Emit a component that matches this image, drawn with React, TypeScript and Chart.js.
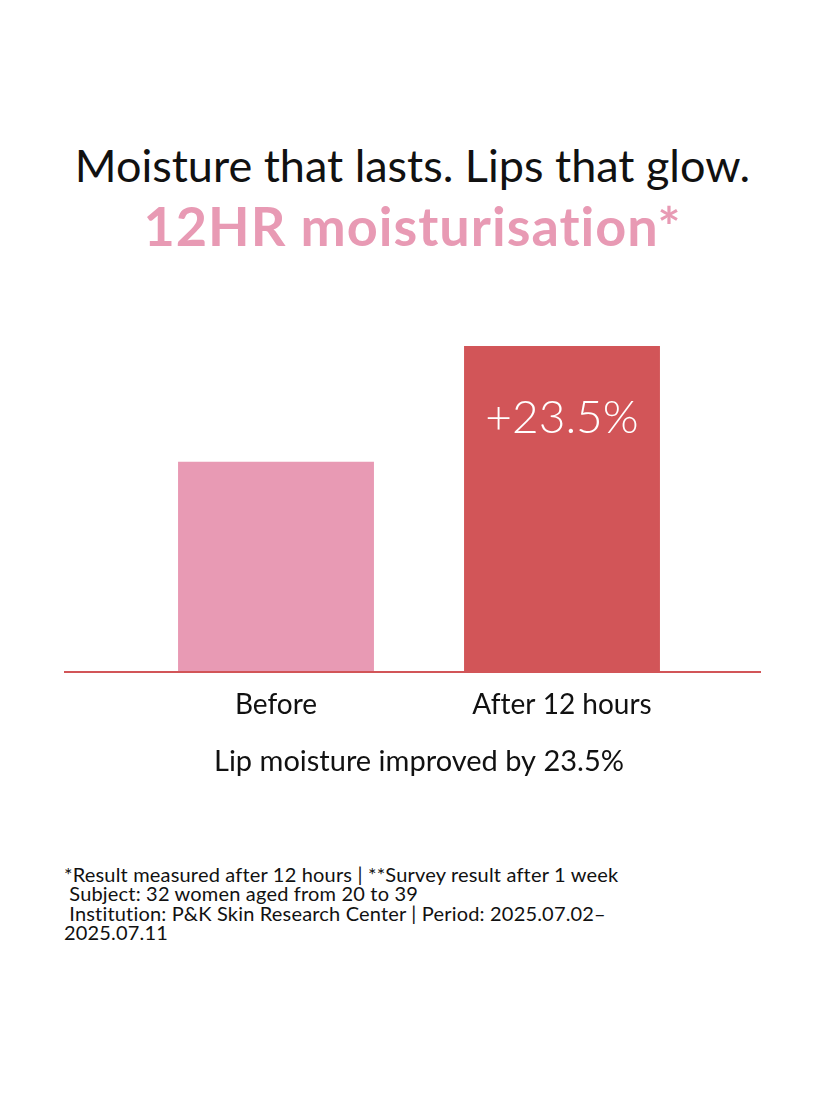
import React, { useEffect, useRef } from "react";
import { Chart, registerables } from "chart.js";

Chart.register(...registerables);

const categories: string[] = ["Before", "After 12 hours"];
const moistureValues: number[] = [100, 155];
const barLabels: string[] = ["", "+23.5%"];
const axisTitle = "Lip moisture improved by 23.5%";
const headline = "Moisture that lasts. Lips that glow.";
const subline = "12HR moisturisation*";
const footnoteLines: string[] = [
  "*Result measured after 12 hours | **Survey result after 1 week",
  " Subject: 32 women aged from 20 to 39",
  " Institution: P&K Skin Research Center | Period: 2025.07.02\u2013",
  "2025.07.11",
];

const FONT = "Lato, 'Noto Sans', sans-serif";
const PINK = "#e89ab4";
const RED = "#d25558";

const baselinePlugin = {
  id: "fullBaseline",
  afterDatasetsDraw(chart: any) {
    const { ctx } = chart;
    const y = chart.scales.y.getPixelForValue(0);
    ctx.save();
    ctx.strokeStyle = RED;
    ctx.lineWidth = 2;
    ctx.beginPath();
    ctx.moveTo(64, y);
    ctx.lineTo(761, y);
    ctx.stroke();
    ctx.restore();
  },
};

const barLabelPlugin = {
  id: "barLabels",
  afterDatasetsDraw(chart: any) {
    const { ctx } = chart;
    const meta = chart.getDatasetMeta(0);
    ctx.save();
    ctx.fillStyle = "#ffffff";
    ctx.font = `300 46px ${FONT}`;
    ctx.textAlign = "center";
    ctx.textBaseline = "alphabetic";
    meta.data.forEach((el: any, i: number) => {
      const t = barLabels[i];
      if (!t) return;
      ctx.fillText(t, el.x, el.y + 87);
    });
    ctx.restore();
  },
};

export default function App() {
  const canvasRef = useRef<HTMLCanvasElement | null>(null);

  useEffect(() => {
    if (!canvasRef.current) return;
    const chart = new Chart(canvasRef.current, {
      type: "bar",
      data: {
        labels: categories,
        datasets: [
          {
            data: moistureValues,
            backgroundColor: [PINK, RED],
            borderWidth: 0,
            categoryPercentage: 1,
            barPercentage: 0.685,
          },
        ],
      },
      options: {
        animation: false,
        responsive: false,
        maintainAspectRatio: false,
        layout: { padding: { top: 46, left: 133, right: 120, bottom: 0 } },
        plugins: {
          legend: { display: false },
          tooltip: { enabled: false },
        },
        scales: {
          y: { display: false, min: 0, max: 155 },
          x: {
            grid: { display: false, drawTicks: false },
            border: { display: false },
            ticks: {
              padding: 16,
              color: "#111111",
              font: { family: FONT, size: 28 },
            },
            title: {
              display: true,
              text: axisTitle,
              color: "#111111",
              font: { family: FONT, size: 29 },
              padding: { top: 0, bottom: 21 },
            },
            afterFit(scale: any) {
              scale.height = 128;
            },
          },
        },
      },
      plugins: [baselinePlugin, barLabelPlugin],
    });
    return () => chart.destroy();
  }, []);

  return (
    <div
      style={{
        position: "absolute",
        left: 0,
        top: 0,
        width: 825,
        height: 1100,
        background: "#ffffff",
        fontFamily: FONT,
        fontVariantLigatures: "none",
        overflow: "hidden",
      }}
    >
      <div
        style={{
          position: "absolute",
          top: 143,
          left: 0,
          width: 825,
          textAlign: "center",
          fontSize: 45,
          lineHeight: "45px",
          color: "#111111",
          whiteSpace: "nowrap",
        }}
      >
        {headline}
      </div>
      <div
        style={{
          position: "absolute",
          top: 199,
          left: 0,
          width: 825,
          textAlign: "center",
          fontSize: 54,
          lineHeight: "54px",
          fontWeight: 700,
          letterSpacing: "1px",
          color: PINK,
          whiteSpace: "nowrap",
        }}
      >
        {subline}
      </div>
      <canvas
        ref={canvasRef}
        width={825}
        height={500}
        style={{ position: "absolute", left: 0, top: 300, width: 825, height: 500 }}
      />
      <div
        style={{
          position: "absolute",
          top: 865,
          left: 64,
          fontSize: 20,
          lineHeight: "19.3px",
          letterSpacing: "0.18px",
          color: "#111111",
          whiteSpace: "pre",
        }}
      >
        {footnoteLines.map((l, i) => (
          <div key={i}>{l}</div>
        ))}
      </div>
    </div>
  );
}
